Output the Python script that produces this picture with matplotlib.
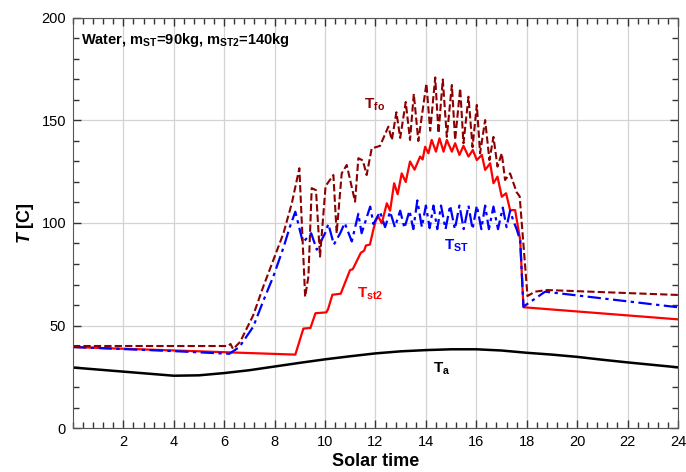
import numpy as np
import matplotlib
matplotlib.use('Agg')
import matplotlib.pyplot as plt
from matplotlib.ticker import MultipleLocator, AutoMinorLocator

plt.rcParams['font.family'] = ['Liberation Sans', 'DejaVu Sans']
plt.rcParams['mathtext.fontset'] = 'custom'
plt.rcParams['mathtext.rm'] = 'Liberation Sans:bold'
plt.rcParams['mathtext.it'] = 'Liberation Sans:italic:bold'
plt.rcParams['mathtext.bf'] = 'Liberation Sans:bold'

# ambient temperature
t_a = [0, 1, 2, 3, 4, 5, 6, 7, 8, 9, 10, 11, 12, 13, 14, 15, 16, 17, 18, 19, 20, 21, 22, 23, 24]
T_a = [29.5, 28.5, 27.5, 26.5, 25.5, 25.7, 26.8, 28.2, 30.0, 31.8, 33.5, 35.0, 36.4, 37.4, 38.0, 38.4,
       38.4, 37.8, 36.7, 35.8, 34.7, 33.3, 32.0, 30.8, 29.6]

# storage tank ST (blue dash-dot)
t_st = [0, 2, 4, 6.2, 6.6, 7.15, 7.55, 7.95, 8.35, 8.6, 8.82, 9.12, 9.45, 9.67, 10.0, 10.13, 10.35, 10.6,
        10.78, 11.06, 11.32, 11.45, 11.79, 11.92, 12.18, 12.38, 12.58, 12.77, 12.98, 13.15, 13.35, 13.5,
        13.66, 13.84, 14.0, 14.15, 14.3, 14.45, 14.6, 14.78, 14.96, 15.15, 15.33, 15.5, 15.69, 15.85,
        16.02, 16.2, 16.35, 16.5, 16.68, 16.86, 17.05, 17.2, 17.34, 17.47, 17.6, 17.74, 17.87, 18.73, 24]
T_st = [39.5, 38.5, 37.5, 36.2, 39.5, 49.4, 62.0, 74.0, 88.0, 98.0, 105.5, 90.5, 95.0, 87.0, 95.0, 99.5,
        89.5, 95.0, 100.0, 91.0, 104.5, 95.0, 108.0, 99.5, 105.5, 98.0, 105.5, 98.0, 106.0, 97.5, 106.0,
        97.0, 111.0, 98.0, 108.5, 97.5, 108.5, 97.0, 108.5, 97.0, 108.5, 97.0, 108.5, 97.0, 108.5, 97.0,
        108.5, 97.0, 108.5, 97.0, 108.0, 97.0, 107.5, 98.0, 106.0, 101.0, 97.0, 91.5, 59.2, 66.5, 58.9]

# storage tank ST2 (red solid)
t_st2 = [0, 8.82, 9.14, 9.42, 9.62, 10.05, 10.12, 10.29, 10.62, 10.99, 11.1, 11.42, 11.55, 11.62, 11.78,
         11.92, 12.02, 12.12, 12.25, 12.45, 12.58, 12.74, 12.88, 13.04, 13.2, 13.37, 13.55, 13.77, 13.87,
         13.97, 14.1, 14.23, 14.4, 14.54, 14.7, 14.83, 15.03, 15.16, 15.33, 15.49, 15.69, 15.86, 16.02,
         16.22, 16.35, 16.55, 16.68, 16.84, 17.01, 17.18, 17.34, 17.54, 17.74, 17.87, 24]
T_st2 = [39.5, 35.8, 48.5, 48.8, 56.0, 56.4, 58.0, 65.0, 65.5, 77.0, 77.5, 85.5, 86.5, 89.0, 89.5,
         97.0, 101.5, 103.0, 99.8, 109.6, 106.0, 119.4, 114.0, 124.2, 120.0, 130.0, 126.0, 132.4, 131.0,
         137.2, 134.0, 140.5, 134.8, 141.3, 134.8, 140.5, 134.8, 138.9, 133.2, 137.6, 132.4, 135.6, 130.7,
         133.2, 125.9, 129.1, 119.4, 122.6, 112.8, 114.5, 106.3, 106.3, 91.7, 58.9, 53.0]

# fluid outlet T_fo (dark red dashed)
t_fo = [0, 2, 4, 6.15, 6.25, 6.35, 6.63, 7.15, 7.55, 7.95, 8.35, 8.68, 8.98, 9.21, 9.34, 9.47, 9.64, 9.8,
        10.02, 10.33, 10.46, 10.66, 10.86, 11.19, 11.32, 11.5, 11.65, 11.85, 12.18, 12.51, 12.65, 12.83,
        12.98, 13.2, 13.37, 13.52, 13.7, 14.02, 14.17, 14.37, 14.5, 14.67, 14.83, 15.03, 15.16, 15.36,
        15.49, 15.69, 15.85, 16.02, 16.15, 16.35, 16.52, 16.68, 16.84, 17.01, 17.14, 17.34, 17.6, 17.72,
        18.03, 18.33, 18.8, 24]
T_fo = [40.0, 40.0, 40.0, 40.0, 41.0, 38.5, 42.0, 55.0, 69.0, 82.0, 95.0, 109.6, 126.7, 64.0, 74.0, 117.0,
        116.0, 83.6, 118.0, 123.4, 95.0, 124.2, 128.3, 110.4, 131.6, 130.5, 123.4, 136.4, 137.6, 147.0,
        140.5, 154.0, 141.5, 159.0, 140.5, 163.0, 140.0, 168.0, 145.0, 171.0, 143.8, 170.0, 142.0, 167.3,
        140.5, 165.7, 138.9, 161.6, 137.0, 157.6, 134.0, 150.2, 130.7, 142.0, 127.5, 134.0, 121.0, 124.2,
        115.0, 113.0, 64.4, 66.5, 67.3, 64.9]

fig = plt.figure(figsize=(6.86, 4.72), dpi=100)
ax = fig.add_axes([0.1064, 0.0932, 0.8819, 0.8687])

ax.plot(t_a, T_a, color='black', lw=1.8, zorder=3)
ax.plot(t_st2, T_st2, color='#ff0000', lw=1.6, zorder=4)
ax.plot(t_st, T_st, color='#0000ff', lw=1.6, dashes=(6, 2, 1.5, 2), zorder=5)
ax.plot(t_fo, T_fo, color='#8b0000', lw=1.5, dashes=(3.5, 1.5), zorder=6)

ax.set_xlim(0, 24)
ax.set_ylim(0, 200)
ax.set_xticks(np.arange(2, 25, 2))
ax.xaxis.set_minor_locator(MultipleLocator(0.4))
ax.yaxis.set_major_locator(MultipleLocator(50))
ax.yaxis.set_minor_locator(AutoMinorLocator(5))
ax.tick_params(which='both', direction='in', top=True, right=True, color='#333333', width=1.0,
               labelsize=10.5, pad=5)
ax.tick_params(which='major', length=6)
ax.tick_params(which='minor', length=4)
ax.grid(True, which='major', color='#d3d3d3', lw=0.9)
for s in ax.spines.values():
    s.set_color('#555555')
    s.set_zorder(10)

ax.set_xlabel('Solar time', fontsize=13, fontweight='bold', labelpad=3)
ax.set_ylabel(r'$T$ [C]', fontsize=13, fontweight='bold', labelpad=4)

ax.text(0.014, 0.946, r'Water, m$_{\mathregular{ST}}$=90kg, m$_{\mathregular{ST2}}$=140kg',
        transform=ax.transAxes, fontsize=10.5, fontweight='bold', ha='left', va='center')
ax.text(11.98, 157.5, r'T$_{\mathregular{fo}}$', color='#8b0000', fontsize=11, fontweight='bold', ha='center', va='center')
ax.text(15.2, 89, r'T$_{\mathregular{ST}}$', color='#0000ff', fontsize=11, fontweight='bold', ha='center', va='center')
ax.text(11.79, 65.6, r'T$_{\mathregular{st2}}$', color='#ff0000', fontsize=11, fontweight='bold', ha='center', va='center')
ax.text(14.62, 29, r'T$_{\mathregular{a}}$', color='black', fontsize=11, fontweight='bold', ha='center', va='center')

fig.savefig('out.png', dpi=100)
